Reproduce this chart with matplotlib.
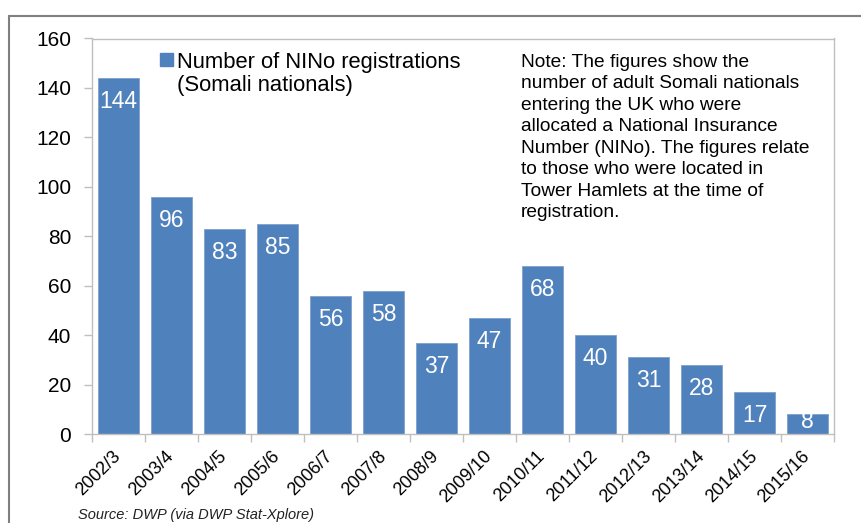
import matplotlib
matplotlib.use('Agg')
import matplotlib.pyplot as plt
from matplotlib.patches import Rectangle

plt.rcParams['font.family'] = ['Liberation Sans', 'DejaVu Sans']

# Data
years = ['2002/3', '2003/4', '2004/5', '2005/6', '2006/7', '2007/8', '2008/9',
         '2009/10', '2010/11', '2011/12', '2012/13', '2013/14', '2014/15', '2015/16']
registrations = [144, 96, 83, 85, 56, 58, 37, 47, 68, 40, 31, 28, 17, 8]
y_ticks = [0, 20, 40, 60, 80, 100, 120, 140, 160]

legend_label = 'Number of NINo registrations\n(Somali nationals)'
note = ('Note: The figures show the\n'
        'number of adult Somali nationals\n'
        'entering the UK who were\n'
        'allocated a National Insurance\n'
        'Number (NINo). The figures relate\n'
        'to those who were located in\n'
        'Tower Hamlets at the time of\n'
        'registration.')
source = 'Source: DWP (via DWP Stat-Xplore)'

bar_color = '#4F81BD'
grey = '#BFBFBF'

fig = plt.figure(figsize=(8.62, 5.23), dpi=100)
ax = fig.add_axes([92/862, 1 - 434/523, (834 - 92)/862, (434 - 38.5)/523])

x = list(range(len(years)))
ax.bar(x, registrations, width=0.77, color=bar_color, edgecolor='#7FA1CC', linewidth=0.6)

# value labels, inside end (kept above the axis for small bars)
for xi, v in zip(x, registrations):
    if v >= 13:
        ax.annotate(str(v), (xi, v), xytext=(0, -12), textcoords='offset pixels',
                    ha='center', va='top', color='white', fontsize=16.5)
    else:
        ax.annotate(str(v), (xi, 0), xytext=(0, 1), textcoords='offset pixels',
                    ha='center', va='bottom', color='white', fontsize=16.5)

ax.set_xlim(-0.5, len(years) - 0.5)
ax.set_ylim(0, 160)
ax.set_yticks(y_ticks)
ax.tick_params(axis='y', length=6, width=1, color=grey, pad=9, labelsize=15)

ax.set_xticks(x)
ax.set_xticklabels(years, rotation=45, ha='right', va='center',
                   rotation_mode='anchor', fontsize=13)
ax.set_xticks([i - 0.5 for i in range(len(years) + 1)], minor=True)
ax.tick_params(axis='x', which='major', length=0, pad=14)
ax.tick_params(axis='x', which='minor', length=6, width=1, color=grey)

for s in ax.spines.values():
    s.set_color(grey)
    s.set_linewidth(1)

# legend drawn by hand so the swatch sits on the first line
fig.add_artist(Rectangle((160/862, 1 - 65.5/523), 13/862, 12.5/523,
                         transform=fig.transFigure, color=bar_color))
fig.text(177/862, 1 - 52/523, legend_label, fontsize=15.8, va='top',
         linespacing=1.15)

fig.text(521/862, 1 - 54/523, note, fontsize=13.8, va='top', linespacing=1.34)

fig.text(78/862, 1 - 519/523, source, fontsize=10.5, style='italic',
         color='#222222', va='baseline')

# outer chart frame (runs off the right and bottom edges)
fig.add_artist(Rectangle((9/862, -0.1), 1.0, 1.1 - 16/523,
                         transform=fig.transFigure, fill=False,
                         edgecolor='#808080', linewidth=1.5))

fig.savefig('out.png', dpi=100)
